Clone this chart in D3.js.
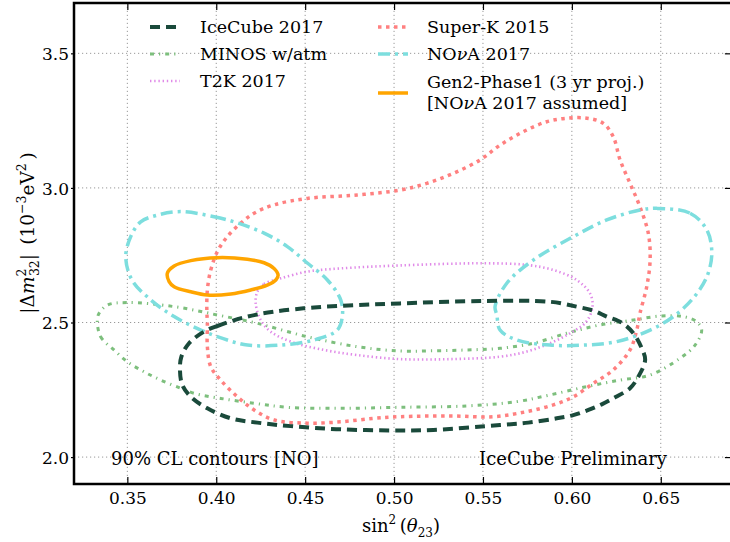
<!DOCTYPE html>
<html>
<head>
<meta charset="utf-8">
<script src="https://cdn.jsdelivr.net/npm/d3@7"></script>
<style>
  body { margin: 0; background: #fff; }
  text { font-family: "DejaVu Serif", "Liberation Serif", serif; fill: #000; }
</style>
</head>
<body>
<div id="chart"></div>
<script>
// tick labels
const xTicks = [0.35, 0.40, 0.45, 0.50, 0.55, 0.60, 0.65];
const yTicks = [2.0, 2.5, 3.0, 3.5];

// 90% CL contours, [sin^2(theta23), |dm2_32| (1e-3 eV^2)]
const icecube2017 = [
  [0.3931, 2.466], [0.4006, 2.487], [0.4175, 2.522], [0.4325, 2.540], [0.4550, 2.556],
  [0.4794, 2.565], [0.5034, 2.571], [0.5502, 2.580], [0.5877, 2.577], [0.6027, 2.559],
  [0.6121, 2.544], [0.6196, 2.522], [0.6281, 2.499], [0.6346, 2.460], [0.6393, 2.404],
  [0.6412, 2.361], [0.6374, 2.299], [0.6327, 2.256], [0.6243, 2.222], [0.6168, 2.196],
  [0.6093, 2.175], [0.6008, 2.156], [0.5915, 2.144], [0.5755, 2.128], [0.5596, 2.119],
  [0.5221, 2.101], [0.5034, 2.099], [0.4700, 2.103], [0.4419, 2.115], [0.4231, 2.128],
  [0.4082, 2.144], [0.3950, 2.181], [0.3857, 2.224], [0.3809, 2.268], [0.3796, 2.324],
  [0.3804, 2.373], [0.3847, 2.423]
];
const minosAtm = [
  [0.3331, 2.509], [0.3350, 2.447], [0.3425, 2.398], [0.3500, 2.354], [0.3594, 2.317],
  [0.3688, 2.286], [0.3800, 2.256], [0.3875, 2.237], [0.4025, 2.218], [0.4213, 2.200],
  [0.4400, 2.185], [0.4700, 2.181], [0.5034, 2.185], [0.5409, 2.190], [0.5690, 2.206],
  [0.5877, 2.231], [0.6084, 2.262], [0.6271, 2.286], [0.6440, 2.305], [0.6608, 2.367],
  [0.6693, 2.416], [0.6730, 2.472], [0.6702, 2.503], [0.6627, 2.522], [0.6496, 2.524],
  [0.6346, 2.509], [0.6158, 2.491], [0.5971, 2.460], [0.5783, 2.423], [0.5596, 2.404],
  [0.5409, 2.398], [0.5221, 2.395], [0.5034, 2.394], [0.4794, 2.410], [0.4512, 2.447],
  [0.4231, 2.497], [0.4006, 2.528], [0.3763, 2.559], [0.3500, 2.574], [0.3388, 2.565],
  [0.3341, 2.534]
];
const t2k2017 = [
  [0.4231, 2.614], [0.4269, 2.643], [0.4363, 2.664], [0.4512, 2.689], [0.4700, 2.701],
  [0.5034, 2.712], [0.5502, 2.720], [0.5746, 2.714], [0.5896, 2.695], [0.6027, 2.658],
  [0.6102, 2.608], [0.6116, 2.559], [0.6080, 2.502], [0.5990, 2.460], [0.5877, 2.423],
  [0.5746, 2.392], [0.5596, 2.373], [0.5315, 2.364], [0.5034, 2.364], [0.4794, 2.379],
  [0.4606, 2.398], [0.4419, 2.429], [0.4306, 2.466], [0.4250, 2.509], [0.4222, 2.571]
];
const superK2015 = [
  [0.3950, 2.621], [0.3969, 2.695], [0.4006, 2.763], [0.4062, 2.819], [0.4138, 2.869],
  [0.4213, 2.906], [0.4325, 2.937], [0.4512, 2.961], [0.4794, 2.974], [0.5034, 2.992],
  [0.5184, 3.017], [0.5333, 3.054], [0.5484, 3.104], [0.5596, 3.159], [0.5727, 3.209],
  [0.5859, 3.246], [0.5971, 3.259], [0.6084, 3.259], [0.6177, 3.240], [0.6233, 3.190],
  [0.6271, 3.104], [0.6327, 3.017], [0.6383, 2.930], [0.6430, 2.831], [0.6440, 2.732],
  [0.6421, 2.633], [0.6383, 2.534], [0.6365, 2.472], [0.6327, 2.398], [0.6233, 2.324],
  [0.6121, 2.274], [0.6008, 2.224], [0.5896, 2.194], [0.5746, 2.169], [0.5558, 2.150],
  [0.5315, 2.153], [0.5034, 2.150], [0.4887, 2.144], [0.4700, 2.131], [0.4512, 2.126],
  [0.4325, 2.138], [0.4213, 2.175], [0.4119, 2.224], [0.4025, 2.286], [0.3969, 2.336],
  [0.3950, 2.410], [0.3950, 2.497], [0.3947, 2.546]
];
const nova2017Low = [
  [0.3800, 2.912], [0.3988, 2.893], [0.4119, 2.870], [0.4269, 2.832], [0.4400, 2.782],
  [0.4512, 2.721], [0.4625, 2.658], [0.4700, 2.584], [0.4709, 2.522], [0.4681, 2.472],
  [0.4550, 2.435], [0.4363, 2.416], [0.4175, 2.416], [0.4044, 2.439], [0.3913, 2.472],
  [0.3763, 2.522], [0.3632, 2.584], [0.3526, 2.658], [0.3491, 2.744], [0.3519, 2.819],
  [0.3575, 2.874], [0.3669, 2.899]
];
const nova2017High = [
  [0.6477, 2.924], [0.6665, 2.906], [0.6759, 2.844], [0.6787, 2.757], [0.6759, 2.670],
  [0.6683, 2.591], [0.6571, 2.522], [0.6440, 2.472], [0.6252, 2.429], [0.6065, 2.416],
  [0.5877, 2.416], [0.5690, 2.435], [0.5596, 2.472], [0.5578, 2.528], [0.5568, 2.559],
  [0.5634, 2.646], [0.5783, 2.732], [0.6008, 2.819], [0.6196, 2.881], [0.6383, 2.918]
];
const gen2Phase1 = [
  [0.3763, 2.633], [0.3857, 2.614], [0.3950, 2.602], [0.4082, 2.606], [0.4194, 2.621],
  [0.4287, 2.639], [0.4335, 2.658], [0.4348, 2.676], [0.4325, 2.701], [0.4269, 2.722],
  [0.4175, 2.735], [0.4006, 2.741], [0.3857, 2.730], [0.3763, 2.710], [0.3725, 2.683],
  [0.3735, 2.652]
];

const styles = {
  icecube: { color: "#1a4a3b", width: 4, dash: "10,6" },
  minos: { color: "#7dbf7d", width: 3, dash: "4,5,1.2,5" },
  t2k: { color: "#e08ae8", width: 2.6, dash: "1.4,2.8" },
  superk: { color: "#ff8080", width: 3.5, dash: "3.5,4.5" },
  nova: { color: "#7ddede", width: 3.5, dash: "12,5,3,5" },
  gen2: { color: "#ffa500", width: 3.5, dash: null }
};

const FONT = "DejaVu Serif, Liberation Serif, serif";
const width = 730, height = 542;
const x = d3.scaleLinear([0.32, 0.69], [74, 731.9]);
const y = d3.scaleLinear([1.9, 3.687], [484, 3]);

const svg = d3.select("#chart").append("svg")
  .attr("width", width).attr("height", height)
  .attr("font-family", FONT);

const [x0, x1] = x.range();
const [y0, y1] = y.range();

svg.append("clipPath").attr("id", "plot")
  .append("rect").attr("x", x0).attr("y", y1).attr("width", x1 - x0).attr("height", y0 - y1);

// grid
svg.append("g").selectAll("line").data(xTicks).join("line")
  .attr("x1", d => x(d)).attr("x2", d => x(d)).attr("y1", y0).attr("y2", y1)
  .attr("stroke", "#999").attr("stroke-width", 1).attr("stroke-dasharray", "1.2,2.8");
svg.append("g").selectAll("line").data(yTicks).join("line")
  .attr("x1", x0).attr("x2", x1).attr("y1", d => y(d)).attr("y2", d => y(d))
  .attr("stroke", "#999").attr("stroke-width", 1).attr("stroke-dasharray", "1.2,2.8");

// contours
const line = d3.line().x(d => x(d[0])).y(d => y(d[1])).curve(d3.curveCatmullRomClosed.alpha(0.5));
const contours = [
  [minosAtm, styles.minos],
  [t2k2017, styles.t2k],
  [superK2015, styles.superk],
  [nova2017Low, styles.nova],
  [nova2017High, styles.nova],
  [icecube2017, styles.icecube],
  [gen2Phase1, styles.gen2]
];
const gC = svg.append("g").attr("clip-path", "url(#plot)");
contours.forEach(([pts, s]) => {
  gC.append("path")
    .attr("d", line(pts))
    .attr("fill", "none")
    .attr("stroke", s.color)
    .attr("stroke-width", s.width)
    .attr("stroke-dasharray", s.dash)
    .attr("stroke-linejoin", "round");
});

// axes (ticks inward top/bottom/right, small outward on left)
const axBottom = d3.axisBottom(x).tickValues(xTicks).tickSize(-7).tickPadding(12).tickFormat(d3.format(".2f"));
const axTop = d3.axisTop(x).tickValues(xTicks).tickSize(-7).tickFormat("");
const axLeft = d3.axisLeft(y).tickValues(yTicks).tickSize(3).tickPadding(2).tickFormat(d3.format(".1f"));
const axRight = d3.axisRight(y).tickValues(yTicks).tickSize(-7).tickFormat("");

function styleAxis(g) {
  g.attr("font-family", FONT);
  g.select(".domain").remove();
  g.selectAll(".tick line").attr("stroke", "#000").attr("stroke-width", 1.2);
  g.selectAll(".tick text").attr("font-family", FONT).attr("font-size", 17).attr("fill", "#000");
}
svg.append("g").attr("transform", `translate(0,${y0})`).call(axBottom).call(styleAxis)
  .selectAll(".tick text").attr("dy", null).attr("y", 20);
svg.append("g").attr("transform", `translate(0,${y1})`).call(axTop).call(styleAxis);
svg.append("g").attr("transform", `translate(${x0},0)`).call(axLeft).call(styleAxis)
  .selectAll(".tick text").attr("dy", "0.36em");
svg.append("g").attr("transform", `translate(${x1},0)`).call(axRight).call(styleAxis);

// frame
svg.append("rect")
  .attr("x", x0).attr("y", y1).attr("width", x1 - x0).attr("height", y0 - y1)
  .attr("fill", "none").attr("stroke", "#000").attr("stroke-width", 2.5);

// axis labels
const xl = svg.append("text").attr("x", 401).attr("y", 532)
  .attr("text-anchor", "middle").attr("font-size", 18);
xl.append("tspan").text("sin");
xl.append("tspan").attr("font-size", 12).attr("dy", -8).text("2");
xl.append("tspan").attr("dy", 8).text("\u2009(");
xl.append("tspan").attr("font-style", "italic").text("θ");
xl.append("tspan").attr("font-size", 12).attr("dy", 5).text("23");
xl.append("tspan").attr("dy", -5).text(")");

const yl = svg.append("text").attr("transform", "translate(34,233) rotate(-90)")
  .attr("text-anchor", "middle").attr("font-size", 18.5);
yl.append("tspan").text("|Δ");
yl.append("tspan").attr("font-style", "italic").text("m");
yl.append("tspan").attr("font-size", 12.5).attr("dy", -8).text("2");
yl.append("tspan").attr("font-size", 12.5).attr("dx", -7.5).attr("dy", 13).text("32");
yl.append("tspan").attr("dy", -5).text("|\u2002(10");
yl.append("tspan").attr("font-size", 12.5).attr("dy", -8).text("−3");
yl.append("tspan").attr("dy", 8).text("eV");
yl.append("tspan").attr("font-size", 12.5).attr("dy", -8).text("2");
yl.append("tspan").attr("dy", 8).text("\u2009)");

// annotations
svg.append("text").attr("x", 111).attr("y", 464.5).attr("font-size", 18).text("90% CL contours [NO]");
svg.append("text").attr("x", 667).attr("y", 464.5).attr("text-anchor", "end").attr("font-size", 18).text("IceCube Preliminary");

// legend
const legendCol1 = [
  { label: "IceCube 2017", s: styles.icecube },
  { label: "MINOS w/atm", s: styles.minos },
  { label: "T2K 2017", s: styles.t2k }
];
const legendCol2 = [
  { label: "Super-K 2015", s: styles.superk },
  { label: "NOνA 2017", s: styles.nova }
];
const rowY = [27, 54, 81];
function handle(xh, yh, s) {
  svg.append("line").attr("x1", xh).attr("x2", xh + 30).attr("y1", yh).attr("y2", yh)
    .attr("stroke", s.color).attr("stroke-width", s.width).attr("stroke-dasharray", s.dash);
}
function label(xt, yt, str) {
  const t = svg.append("text").attr("x", xt).attr("y", yt).attr("dy", "0.36em")
    .attr("font-family", FONT).attr("font-size", 17.5);
  str.split(/(ν)/).forEach(part => {
    if (part === "ν") t.append("tspan").attr("font-style", "italic").text(part);
    else if (part) t.append("tspan").text(part);
  });
}
legendCol1.forEach((d, i) => { handle(150, rowY[i], d.s); label(200, rowY[i], d.label); });
legendCol2.forEach((d, i) => { handle(378, rowY[i], d.s); label(427, rowY[i], d.label); });
handle(378, 93, styles.gen2);
label(427, 82, "Gen2-Phase1 (3 yr proj.)");
label(427, 103, "[NOνA 2017 assumed]");
</script>
</body>
</html>
